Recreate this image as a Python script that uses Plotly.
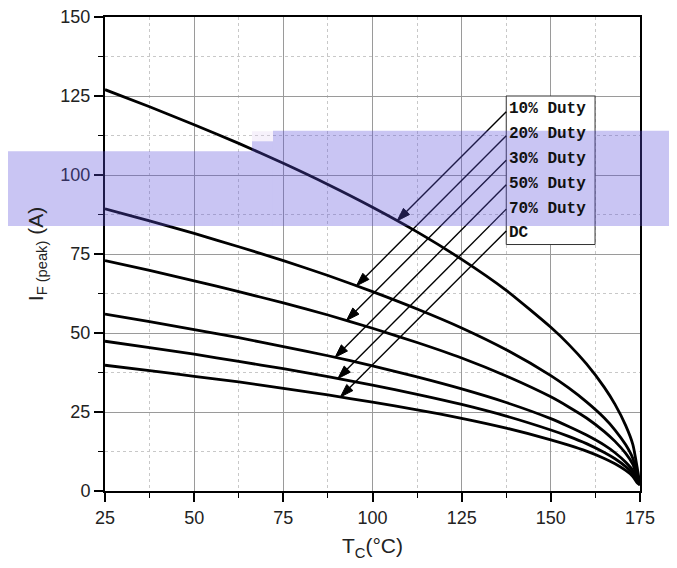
import numpy as np
import plotly.graph_objects as go

# ---- data ----
tc = [25, 37.5, 50, 62.5, 75, 87.5, 100, 112.5, 125, 137.5, 150, 155, 160, 165, 168, 171, 173, 174.2, 175]
duty10 = [127.0, 121.6, 115.9, 110.0, 103.7, 97.0, 89.8, 82.0, 73.3, 63.5, 51.8, 46.4, 40.2, 32.8, 27.4, 20.7, 14.7, 7.5, 2.0]
duty20 = [89.3, 85.5, 81.5, 77.3, 72.9, 68.2, 63.1, 57.6, 51.6, 44.7, 36.5, 32.6, 28.2, 23.1, 19.3, 14.6, 10.3, 5.3, 2.0]
duty30 = [72.9, 69.8, 66.5, 63.1, 59.5, 55.7, 51.5, 47.0, 42.1, 36.4, 29.8, 26.6, 23.1, 18.8, 15.7, 11.9, 8.4, 4.4, 2.0]
duty50 = [56.0, 53.6, 51.1, 48.5, 45.7, 42.8, 39.6, 36.1, 32.3, 28.0, 22.9, 20.4, 17.7, 14.5, 12.1, 9.1, 6.5, 3.5, 2.0]
duty70 = [47.4, 45.4, 43.3, 41.0, 38.7, 36.2, 33.5, 30.6, 27.4, 23.7, 19.3, 17.3, 15.0, 12.2, 10.2, 7.7, 5.5, 3.0, 2.0]
dc = [39.8, 38.1, 36.3, 34.5, 32.5, 30.4, 28.1, 25.7, 23.0, 19.9, 16.2, 14.5, 12.6, 10.3, 8.6, 6.5, 4.6, 2.6, 2.0]

labels = ["10% Duty", "20% Duty", "30% Duty", "50% Duty", "70% Duty", "DC"]
series = [duty10, duty20, duty30, duty50, duty70, dc]

# label anchors (data coords) and arrow geometry
label_x = 137.8
label_y = [120.8, 113.0, 105.1, 97.3, 89.4, 81.6]
arrow_tail_x = 137.5
arrow_tail_y = [120.0, 112.4, 104.7, 96.9, 89.2, 82.3]
arrow_head_x = [106.9, 95.5, 92.7, 89.5, 90.3, 91.0]

x_ticks = [25, 50, 75, 100, 125, 150, 175]
y_ticks = [0, 25, 50, 75, 100, 125, 150]

fig = go.Figure()
for name, vals in zip(labels, series):
    fig.add_trace(go.Scatter(x=tc, y=vals, mode="lines", name=name,
                             line=dict(color="black", width=2.8, shape="spline", smoothing=0.6),
                             showlegend=False))

# arrows from labels to curves (line + arrow marker at the head)
for vals, ty, hx in zip(series, arrow_tail_y, arrow_head_x):
    hy = float(np.interp(hx, tc, vals))
    fig.add_trace(go.Scatter(
        x=[arrow_tail_x, hx], y=[ty, hy], mode="lines+markers",
        line=dict(color="black", width=1.4),
        marker=dict(symbol=["circle", "arrow"], size=[0.1, 14], color="black", opacity=1,
                    angleref="previous", line=dict(width=1, color="black")),
        showlegend=False, hoverinfo="skip"))

annotations = []
for lab, ly in zip(labels, label_y):
    annotations.append(dict(x=label_x, y=ly, xref="x", yref="y", text="<b>%s</b>" % lab,
                            showarrow=False, xanchor="left", yanchor="middle",
                            font=dict(family="Liberation Mono", size=16, color="#111")))

band = "rgba(90,80,220,0.33)"
shapes = [
    # legend box
    dict(type="rect", xref="x", yref="y", x0=137.5, x1=162.4, y0=78.0, y1=125.0,
         fillcolor="white", line=dict(color="#333", width=1), layer="between"),
    # highlight band (scan artifact)
    dict(type="rect", xref="paper", yref="paper", x0=-0.19, x1=0.2748, y0=0.559, y1=0.717,
         fillcolor=band, line=dict(width=0), layer="above"),
    dict(type="rect", xref="paper", yref="paper", x0=0.2748, x1=0.314, y0=0.559, y1=0.738,
         fillcolor=band, line=dict(width=0), layer="above"),
    dict(type="rect", xref="paper", yref="paper", x0=0.314, x1=1.08, y0=0.559, y1=0.760,
         fillcolor=band, line=dict(width=0), layer="above"),
    dict(type="rect", xref="paper", yref="paper", x0=0.2748, x1=0.314, y0=0.738, y1=0.759,
         fillcolor="rgba(220,200,240,0.25)", line=dict(width=0), layer="above"),
]

axis_common = dict(
    showline=True, linecolor="black", linewidth=2, mirror=True, automargin=False,
    ticks="outside", ticklen=9, tickwidth=1.5, tickcolor="black",
    showgrid=True, gridcolor="#9a9a9a", gridwidth=1, zeroline=False,
    ticklabeloverflow="allow",
    tickfont=dict(family="Liberation Sans", size=18, color="#222"),
    minor=dict(dtick=12.5, ticks="outside", ticklen=5, tickwidth=1.2, tickcolor="black",
               showgrid=True, gridcolor="#c8c8c8", griddash="dot", gridwidth=1),
)

fig.update_layout(
    width=669, height=560,
    margin=dict(l=97, r=37, t=9, b=77),
    paper_bgcolor="white", plot_bgcolor="white",
    xaxis=dict(range=[25, 175], tickvals=x_ticks, ticktext=[str(v) for v in x_ticks],
               title=dict(text="T<sub>C</sub>(°C)", standoff=12,
                          font=dict(family="Liberation Sans", size=21, color="#222")),
               **axis_common),
    yaxis=dict(range=[0, 150], tickvals=y_ticks, ticktext=[str(v) for v in y_ticks],
               title=dict(text="I<sub>F (peak)</sub> (A)", standoff=11,
                          font=dict(family="Liberation Sans", size=21, color="#222")),
               **axis_common),
    annotations=annotations,
    shapes=shapes,
)

fig.write_html("out.html")
